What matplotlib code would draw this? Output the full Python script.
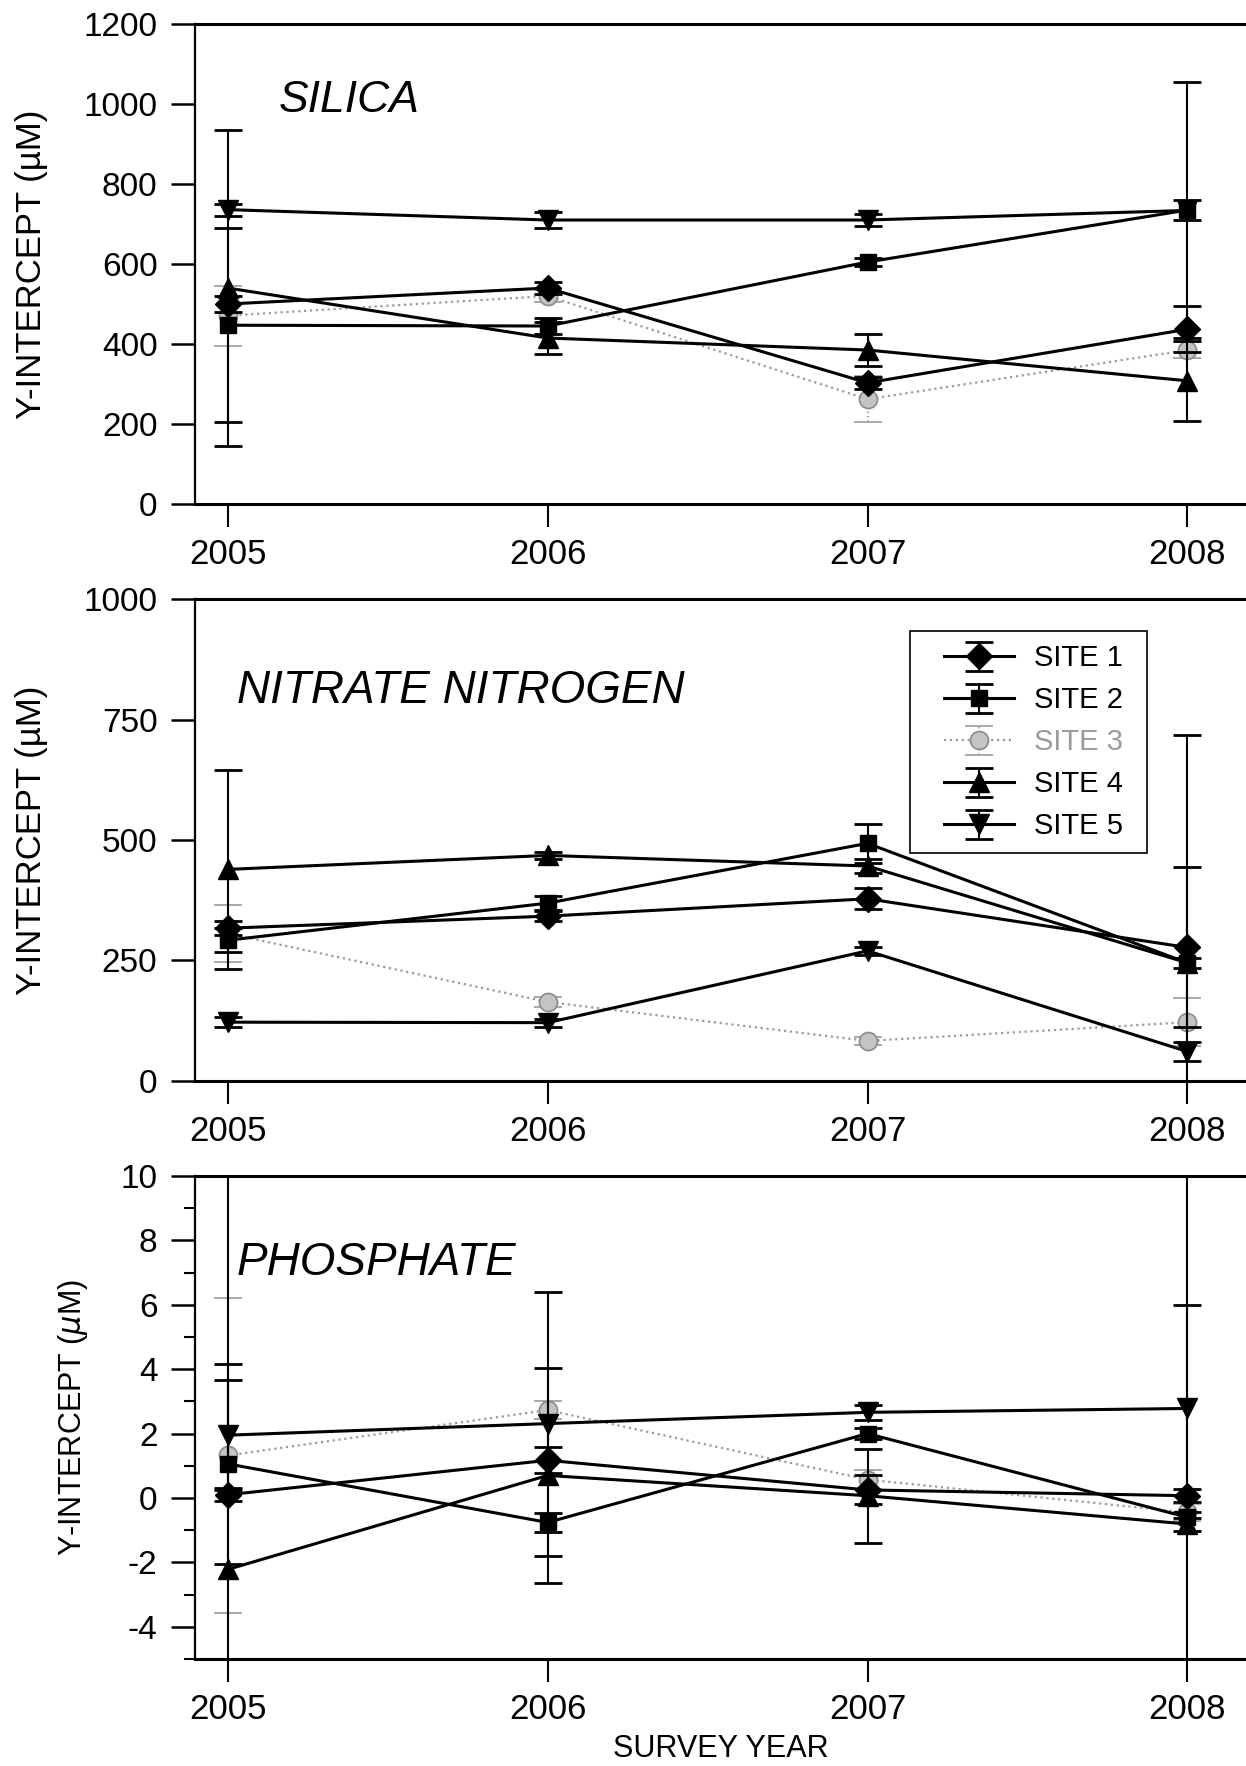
import numpy as np
import matplotlib
matplotlib.use('Agg')
import matplotlib.pyplot as plt
from matplotlib.ticker import MultipleLocator
from matplotlib.patches import Rectangle

plt.rcParams['font.family'] = ['Liberation Sans', 'DejaVu Sans']

# Dados
years = [2005, 2006, 2007, 2008]
sites = ['SITE 1', 'SITE 2', 'SITE 3', 'SITE 4', 'SITE 5']

# Silica
si_vals = [[500, 540, 303, 437],
           [447, 445, 605, 735],
           [471, 520, 262, 385],
           [540, 415, 385, 308],
           [736, 710, 710, 734]]
si_errs = [[20, 15, 15, 58],
           [242, 20, 10, 320],
           [75, 15, 58, 20],
           [395, 40, 40, 100],
           [15, 20, 15, 25]]

# Nitrate nitrogen
no_vals = [[317, 342, 378, 277],
           [292, 369, 493, 245],
           [306, 164, 83, 122],
           [439, 468, 446, 245],
           [122, 121, 270, 61]]
no_errs = [[15, 10, 22, 166],
           [25, 15, 40, 473],
           [60, 10, 8, 50],
           [207, 8, 15, 10],
           [10, 8, 8, 20]]

# Phosphate
po_vals = [[0.1, 1.17, 0.25, 0.07],
           [1.06, -0.76, 2.0, -0.6],
           [1.32, 2.73, 0.57, -0.45],
           [-2.22, 0.7, 0.07, -0.81],
           [1.95, 2.31, 2.66, 2.78]]
po_errs = [[0.2, 0.4, 0.45, 0.2],
           [3.1, 0.3, 0.16, 12],
           [4.9, 0.27, 0.3, 0.25],
           [13, 3.35, 1.46, 0.2],
           [1.7, 4.1, 0.24, 3.22]]

markers = ['D', 's', 'o', '^', 'v']
msizes = [13, 11, 13, 14, 14]


def draw_panel(ax, vals, errs):
    handles = []
    for i in range(5):
        if i == 2:
            h = ax.errorbar(years, vals[i], yerr=errs[i], color='#9a9a9a', ls=':', lw=1.6,
                            marker='o', ms=msizes[i], mfc='#c4c4c4', mec='#8a8a8a', mew=1.2,
                            capsize=10, capthick=1.4, elinewidth=1.2, zorder=2)
            for bl in h[2]:
                bl.set_linestyle(':')
        else:
            h = ax.errorbar(years, vals[i], yerr=errs[i], color='black', lw=2.2,
                            marker=markers[i], ms=msizes[i], mfc='black', mec='black',
                            capsize=10, capthick=2, elinewidth=1.5, zorder=3)
        handles.append(h)
    ax.set_xlim(2004.898, 2008.183)
    ax.set_xticks(years)
    ax.tick_params(axis='x', direction='out', length=16.5, width=1.5, pad=8, labelsize=25)
    ax.tick_params(axis='y', direction='out', length=17, width=1.8, pad=10, labelsize=24)
    ax.spines['right'].set_visible(False)
    ax.spines['top'].set_linewidth(2.2)
    ax.spines['bottom'].set_linewidth(2.2)
    ax.spines['left'].set_linewidth(1.6)
    return handles


fig = plt.figure(figsize=(12.46, 17.66), dpi=100)

ax1 = fig.add_axes([0.1565, 0.7146, 0.8435, 0.2718])
draw_panel(ax1, si_vals, si_errs)
ax1.set_ylim(0, 1200)
ax1.set_yticks(np.arange(0, 1201, 200))
ax1.set_ylabel('Y-INTERCEPT (µM)', fontsize=25)
ax1.yaxis.set_label_coords(-0.140, 0.5)
ax1.text(0.080, 0.84, 'SILICA', transform=ax1.transAxes, fontsize=32, style='italic', va='center')

ax2 = fig.add_axes([0.1565, 0.3879, 0.8435, 0.2729])
hs = draw_panel(ax2, no_vals, no_errs)
ax2.set_ylim(0, 1000)
ax2.set_yticks([0, 250, 500, 750, 1000])
ax2.set_ylabel('Y-INTERCEPT (µM)', fontsize=25)
ax2.yaxis.set_label_coords(-0.140, 0.5)
ax2.text(0.040, 0.81, 'NITRATE NITROGEN', transform=ax2.transAxes, fontsize=33, style='italic', va='center')
leg = ax2.legend(hs, sites, loc='upper left', bbox_to_anchor=(0.713, 0.906), fontsize=21,
                 frameon=False, handlelength=2.4, labelspacing=0.48, borderpad=0,
                 handletextpad=0.66, borderaxespad=0)
leg.get_texts()[2].set_color('#9a9a9a')
ax2.add_patch(Rectangle((0.680, 0.473), 0.226, 0.461, transform=ax2.transAxes,
                        fill=False, lw=1.2, ec='black', zorder=5))

ax3 = fig.add_axes([0.1565, 0.0606, 0.8435, 0.2735])
draw_panel(ax3, po_vals, po_errs)
ax3.set_ylim(-5, 10)
ax3.set_yticks(np.arange(-4, 11, 2))
ax3.set_yticklabels(['-4', '-2', '0', '2', '4', '6', '8', '10'])
ax3.yaxis.set_minor_locator(MultipleLocator(1))
ax3.tick_params(axis='y', which='minor', direction='out', length=8, width=1.5)
ax3.set_ylabel('Y-INTERCEPT ($\\mu$M)', fontsize=22)
ax3.yaxis.set_label_coords(-0.100, 0.5)
ax3.set_xlabel('SURVEY YEAR', fontsize=22, labelpad=6)
ax3.text(0.040, 0.82, 'PHOSPHATE', transform=ax3.transAxes, fontsize=33, style='italic', va='center')

fig.savefig('out.png', dpi=100)
